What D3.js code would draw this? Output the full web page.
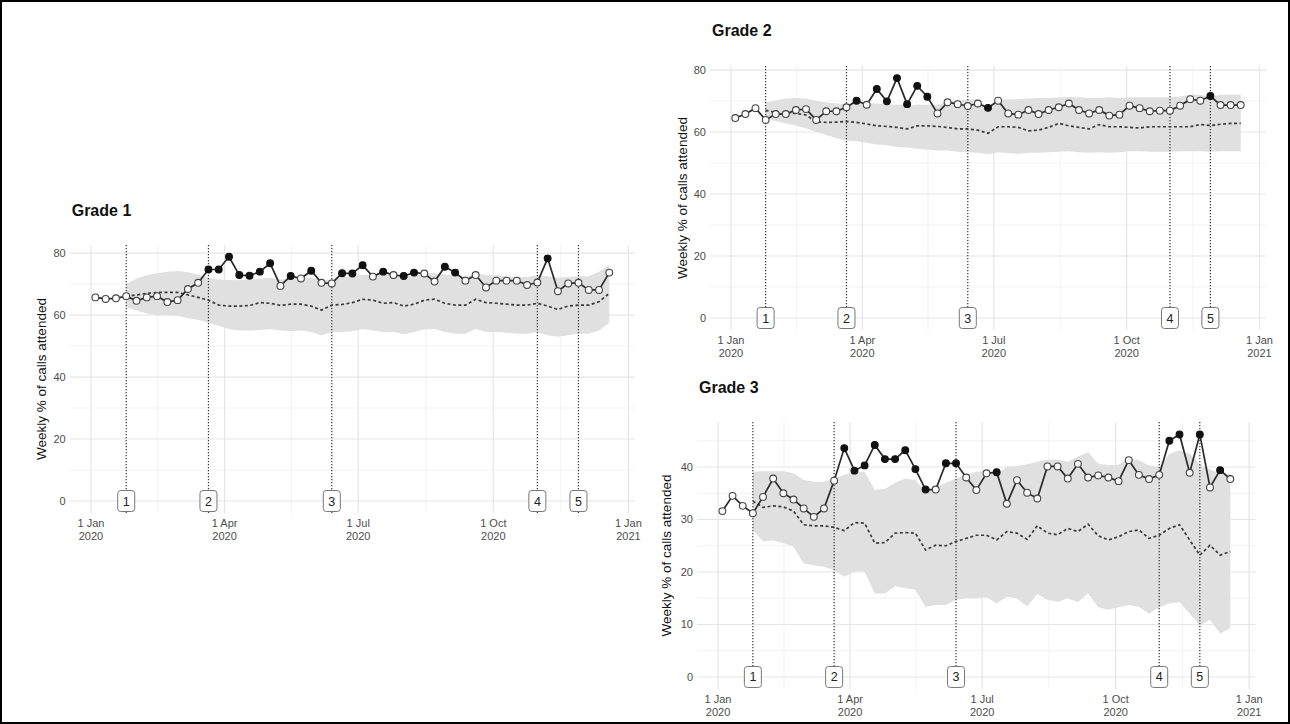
<!DOCTYPE html>
<html><head><meta charset="utf-8">
<script src="https://cdn.jsdelivr.net/npm/d3@7"></script>
<style>
body{margin:0;background:#fff}
svg{display:block}
text{font-family:"Liberation Sans",Arial,Helvetica,sans-serif}
</style>
</head><body><svg id="chart" width="1290" height="724"></svg>
<script>
// ---------------- DATA ----------------
const weeks = ["2020-01-04","2020-01-11","2020-01-18","2020-01-25","2020-02-01","2020-02-08","2020-02-15","2020-02-22","2020-02-29","2020-03-07","2020-03-14","2020-03-21","2020-03-28","2020-04-04","2020-04-11","2020-04-18","2020-04-25","2020-05-02","2020-05-09","2020-05-16","2020-05-23","2020-05-30","2020-06-06","2020-06-13","2020-06-20","2020-06-27","2020-07-04","2020-07-11","2020-07-18","2020-07-25","2020-08-01","2020-08-08","2020-08-15","2020-08-22","2020-08-29","2020-09-05","2020-09-12","2020-09-19","2020-09-26","2020-10-03","2020-10-10","2020-10-17","2020-10-24","2020-10-31","2020-11-07","2020-11-14","2020-11-21","2020-11-28","2020-12-05","2020-12-12","2020-12-19"];
const eventDates = ["2020-01-25","2020-03-21","2020-06-13","2020-10-31","2020-11-28"];
const eventLabels = ["1","2","3","4","5"];
const xTickDates = ["2020-01-01","2020-04-01","2020-07-01","2020-10-01","2021-01-01"];
const xTickLabels = [["1 Jan","2020"],["1 Apr","2020"],["1 Jul","2020"],["1 Oct","2020"],["1 Jan","2021"]];
const yTicksG12 = [0,20,40,60,80];
const yMinorG12 = [10,30,50,70];
const yTicksG3 = [0,10,20,30,40];
const yMinorG3 = [5,15,25,35,45];
const yAxisTitle = "Weekly % of calls attended";

// Grade 1
const g1Observed = [65.7,65.2,65.4,66.1,64.6,65.7,66.1,64.2,64.8,68.4,70.4,74.7,74.7,78.8,72.9,72.7,74.0,76.7,69.4,72.6,71.8,74.3,70.4,70.2,73.5,73.4,76.1,72.4,74.0,72.9,72.6,73.7,73.4,70.8,75.6,73.7,71.1,72.9,68.9,71.1,71.1,71.1,69.7,70.5,78.3,67.7,70.2,70.4,68.1,68.1,73.7];
const g1Outside = [0,0,0,0,0,0,0,0,0,0,0,1,1,1,1,1,1,1,0,1,0,1,0,0,1,1,1,0,1,0,1,1,0,0,1,1,0,0,0,0,0,0,0,0,1,0,0,0,0,0,0];
const g1Expected = [null,null,null,66.0,66.5,67.0,67.3,67.3,67.3,66.5,65.7,64.8,63.2,62.9,62.9,63.1,64.0,63.8,63.1,63.5,63.5,62.9,61.6,63.2,63.4,64.0,65.1,64.8,63.8,64.0,62.9,63.5,64.8,65.1,63.8,63.2,63.2,65.1,64.0,63.8,63.5,63.2,63.2,63.8,62.9,61.8,62.9,63.2,63.2,64.3,67.0];
const g1Lower = [null,null,null,62.5,61.5,60.5,60.0,60.0,59.8,59.0,58.5,57.5,56.5,55.5,55.0,55.0,55.2,55.5,55.0,54.8,55.0,54.5,53.5,54.5,54.5,54.8,55.5,55.0,54.5,54.5,53.8,54.5,55.3,55.5,54.5,54.0,54.0,55.5,54.5,54.5,54.3,54.0,54.0,54.5,53.5,53.0,53.5,54.0,54.0,55.0,57.5];
const g1Upper = [null,null,null,70.0,71.8,72.8,73.5,74.0,74.2,73.8,73.0,72.0,71.5,71.3,71.2,71.4,71.8,72.0,71.5,71.8,72.0,72.0,71.2,71.5,72.2,72.5,73.0,72.8,72.8,73.2,72.3,72.8,73.5,73.5,73.0,72.8,72.5,73.5,72.8,72.8,72.5,72.3,72.3,72.8,72.5,72.0,72.3,72.5,72.5,74.0,76.0];

// Grade 2
const g2Observed = [64.5,65.8,67.7,63.9,65.8,65.8,67.1,67.4,63.9,66.7,66.7,68.0,70.1,68.8,73.9,69.9,77.4,69.0,74.9,71.4,66.0,69.6,69.0,68.4,69.2,67.8,70.1,66.0,65.6,67.1,65.8,67.1,68.0,69.2,67.1,66.0,67.1,65.3,65.6,68.5,67.7,66.7,66.9,66.9,68.5,70.6,70.1,71.6,68.7,68.7,68.7];
const g2Outside = [0,0,0,0,0,0,0,0,0,0,0,0,1,0,1,1,1,1,1,1,0,0,0,0,0,1,0,0,0,0,0,0,0,0,0,0,0,0,0,0,0,0,0,0,0,0,0,1,0,0,0];
const g2Expected = [null,null,null,67.0,66.3,66.0,66.0,65.5,63.3,63.1,63.2,63.4,63.1,62.6,62.0,61.8,61.5,61.0,62.0,62.0,61.8,61.5,61.0,61.0,60.6,59.6,61.7,61.7,61.5,60.4,60.6,61.5,62.8,62.0,61.5,61.0,62.4,61.7,61.7,61.5,61.3,61.7,61.7,61.7,61.7,61.7,62.4,62.1,62.5,62.8,62.8];
const g2Lower = [null,null,null,64.5,63.5,62.8,62.0,61.2,60.0,59.0,58.0,57.3,57.0,56.5,56.0,55.7,55.2,55.0,54.6,54.3,54.0,54.0,53.6,53.5,53.3,52.8,53.5,53.2,53.0,53.3,53.3,53.5,53.6,53.8,53.5,53.3,53.5,53.3,53.5,53.8,53.8,53.6,53.6,53.6,53.8,53.8,53.8,53.6,53.8,53.8,53.8];
const g2Upper = [null,null,null,69.5,70.2,70.8,71.0,70.8,70.0,69.5,69.2,69.0,69.2,69.4,69.2,69.0,68.8,68.6,68.8,68.8,68.8,69.8,70.2,70.5,70.5,67.4,70.5,70.6,70.6,70.8,71.0,71.0,71.2,71.3,71.2,71.0,71.0,71.2,71.0,71.2,71.2,71.2,71.2,71.2,71.5,72.0,72.0,71.3,72.0,72.0,72.0];

// Grade 3
const g3Observed = [31.6,34.5,32.6,31.2,34.3,37.8,35.0,33.8,32.1,30.5,32.1,37.4,43.6,39.3,40.3,44.2,41.5,41.5,43.2,39.6,35.7,35.7,40.7,40.7,38.0,35.6,38.8,39.0,33.0,37.5,35.1,34.0,40.1,40.1,37.8,40.6,38.0,38.4,38.0,37.3,41.3,38.5,37.7,38.5,45.0,46.2,38.9,46.2,36.1,39.4,37.7];
const g3Outside = [0,0,0,0,0,0,0,0,0,0,0,0,1,1,1,1,1,1,1,1,1,0,1,1,0,0,0,1,0,0,0,0,0,0,0,0,0,0,0,0,0,0,0,0,1,1,0,1,0,1,0];
const g3Expected = [null,null,null,33.5,32.3,32.6,32.4,31.6,29.0,28.8,28.8,28.5,27.9,29.4,29.3,25.5,25.6,27.4,27.5,27.4,24.2,25.1,25.0,25.8,26.4,27.0,27.0,26.1,27.7,27.4,26.2,28.8,27.4,27.1,28.3,27.7,29.1,26.9,26.1,26.7,27.7,28.0,26.4,27.0,28.3,29.0,26.1,23.2,25.1,23.2,23.9];
const g3Lower = [null,null,null,28.0,25.8,26.0,25.5,24.8,21.6,21.3,21.0,20.4,19.1,20.1,20.1,15.9,15.9,17.3,16.9,16.6,13.4,13.7,13.7,14.7,15.0,15.0,15.2,14.0,15.3,15.0,13.4,15.8,14.7,14.3,15.0,14.3,15.9,13.3,12.8,13.3,13.7,13.4,12.1,13.3,14.0,14.3,12.1,9.8,10.9,8.3,9.3];
const g3Upper = [null,null,null,39.1,39.2,39.2,39.2,38.8,37.5,37.2,37.2,37.7,38.5,39.1,39.1,35.6,35.8,37.0,37.8,37.5,35.3,36.2,37.0,37.8,38.5,39.1,39.2,38.7,40.0,40.2,40.5,41.0,41.4,41.4,41.0,42.0,42.8,40.6,40.4,40.4,41.7,41.3,40.3,40.0,42.5,43.2,42.5,40.5,39.5,38.7,38.7];

// ---------------- LAYOUT ----------------
const parse = d3.timeParse("%Y-%m-%d");
const dates = weeks.map(parse);
const panels = [
  {title:"Grade 1", obs:g1Observed, out:g1Outside, exp:g1Expected, lo:g1Lower, hi:g1Upper,
   ticks:yTicksG12, minor:yMinorG12, box:{l:69.7,r:635,t:245,b:513}, yDom:[-3.87,82.6], titleY:216, yTitleX:41},
  {title:"Grade 2", obs:g2Observed, out:g2Outside, exp:g2Expected, lo:g2Lower, hi:g2Upper,
   ticks:yTicksG12, minor:yMinorG12, box:{l:710,r:1266,t:66,b:330}, yDom:[-3.87,81.3], titleY:36, yTitleX:682},
  {title:"Grade 3", obs:g3Observed, out:g3Outside, exp:g3Expected, lo:g3Lower, hi:g3Upper,
   ticks:yTicksG3, minor:yMinorG3, box:{l:697,r:1255.7,t:422,b:689}, yDom:[-2.29,48.57], titleY:393, yTitleX:666}
];

const svg = d3.select("#chart");
svg.append("rect").attr("x",0).attr("y",0).attr("width",1290).attr("height",724).attr("fill","#fff");

panels.forEach(p => {
  const b = p.box;
  const ext = d3.extent(dates);
  const pad = (ext[1]-ext[0])*0.05;
  const x = d3.scaleTime().domain([new Date(+ext[0]-pad), new Date(+ext[1]+pad)]).range([b.l,b.r]);
  const y = d3.scaleLinear().domain(p.yDom).range([b.b,b.t]);
  const g = svg.append("g");

  // gridlines
  const majorX = xTickDates.map(parse);
  const minorX = d3.pairs(majorX).map(([a,c]) => new Date((+a + +c)/2));
  g.selectAll(".gmy").data(p.minor).join("line")
    .attr("x1",b.l).attr("x2",b.r).attr("y1",d=>y(d)).attr("y2",d=>y(d))
    .attr("stroke","#f1f1f1").attr("stroke-width",0.9);
  g.selectAll(".gmx").data(minorX).join("line")
    .attr("x1",d=>x(d)).attr("x2",d=>x(d)).attr("y1",b.t).attr("y2",b.b)
    .attr("stroke","#f1f1f1").attr("stroke-width",0.9);
  g.selectAll(".gy").data(p.ticks).join("line")
    .attr("x1",b.l).attr("x2",b.r).attr("y1",d=>y(d)).attr("y2",d=>y(d))
    .attr("stroke","#e6e6e6").attr("stroke-width",1.2);
  g.selectAll(".gx").data(majorX).join("line")
    .attr("x1",d=>x(d)).attr("x2",d=>x(d)).attr("y1",b.t).attr("y2",b.b)
    .attr("stroke","#e6e6e6").attr("stroke-width",1.2);

  // band
  const idx = d3.range(dates.length).filter(i => p.lo[i] != null);
  g.append("path").datum(idx)
    .attr("d", d3.area().x(i=>x(dates[i])).y0(i=>y(p.lo[i])).y1(i=>y(p.hi[i])))
    .attr("fill","#e0e0e0");

  // event lines
  const evd = eventDates.map(parse);
  g.selectAll(".ev").data(evd).join("line")
    .attr("x1",d=>x(d)).attr("x2",d=>x(d)).attr("y1",b.t).attr("y2",b.b)
    .attr("stroke","#333").attr("stroke-width",1.2).attr("stroke-dasharray","1.3,1.7");

  // expected dashed
  g.append("path").datum(idx)
    .attr("d", d3.line().x(i=>x(dates[i])).y(i=>y(p.exp[i])))
    .attr("fill","none").attr("stroke","#3a3a3a").attr("stroke-width",1.7).attr("stroke-dasharray","3,2.5");

  // observed
  g.append("path").datum(d3.range(dates.length))
    .attr("d", d3.line().x(i=>x(dates[i])).y(i=>y(p.obs[i])))
    .attr("fill","none").attr("stroke","#2a2a2a").attr("stroke-width",1.7);
  g.selectAll(".pt").data(d3.range(dates.length)).join("circle")
    .attr("cx",i=>x(dates[i])).attr("cy",i=>y(p.obs[i])).attr("r",3.4)
    .attr("fill",i=>p.out[i]? "#111":"#fafafa")
    .attr("stroke",i=>p.out[i]? "#111":"#444").attr("stroke-width",1.1);

  // event labels
  const lab = g.selectAll(".lab").data(evd).join("g")
    .attr("transform",d=>`translate(${x(d)},${y(0)})`);
  lab.append("rect").attr("x",-8.5).attr("y",-10.5).attr("width",17).attr("height",21)
    .attr("rx",3).attr("fill","#fff").attr("stroke","#777").attr("stroke-width",1);
  lab.append("text").text((d,i)=>eventLabels[i]).attr("text-anchor","middle").attr("dy","0.36em")
    .attr("font-size",12.5).attr("fill","#222");

  // y tick labels
  g.selectAll(".yl").data(p.ticks).join("text")
    .attr("x",b.l-4).attr("y",d=>y(d)).attr("dy","0.35em").attr("text-anchor","end")
    .attr("font-size",11).attr("fill","#4d4d4d").text(d=>d);

  // x tick labels
  const xl = g.selectAll(".xl").data(majorX).join("text")
    .attr("x",d=>x(d)).attr("y",b.b+14).attr("text-anchor","middle")
    .attr("font-size",11).attr("fill","#4d4d4d");
  xl.append("tspan").attr("x",d=>x(d)).attr("dy",0).text((d,i)=>xTickLabels[i][0]);
  xl.append("tspan").attr("x",d=>x(d)).attr("dy",12.5).text((d,i)=>xTickLabels[i][1]);

  // titles
  g.append("text").attr("x",b.l+2).attr("y",p.titleY).attr("font-size",16).attr("font-weight","bold")
    .attr("fill","#111").text(p.title);
  g.append("text").attr("transform",`translate(${p.yTitleX},${(b.t+b.b)/2}) rotate(-90)`)
    .attr("text-anchor","middle").attr("dy","0.35em").attr("font-size",13.5).attr("fill","#111")
    .text(yAxisTitle);
});

svg.append("rect").attr("x",1).attr("y",1).attr("width",1288).attr("height",722)
  .attr("fill","none").attr("stroke","#000").attr("stroke-width",2);
</script>
</body></html>
